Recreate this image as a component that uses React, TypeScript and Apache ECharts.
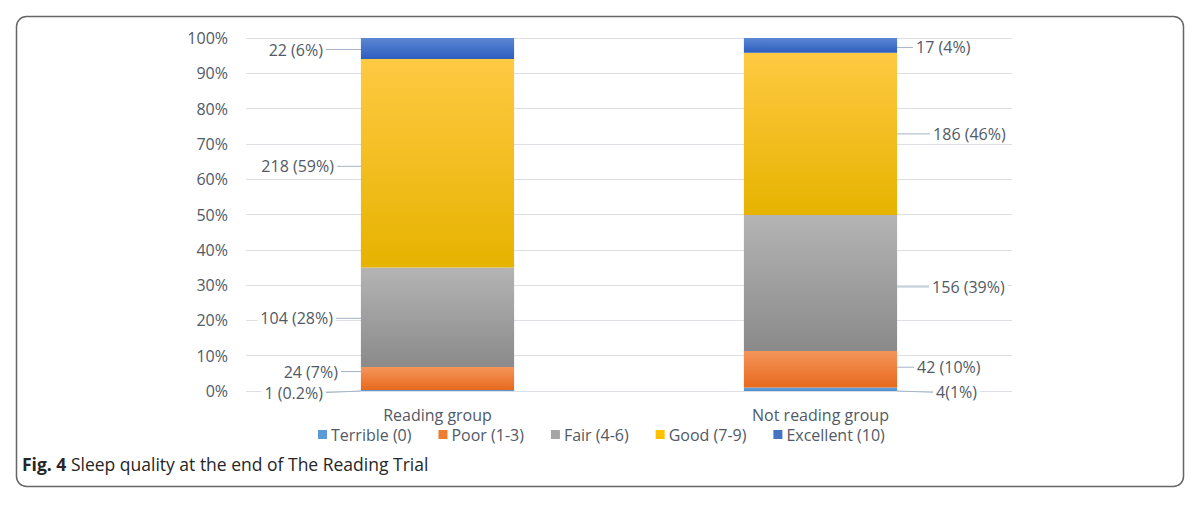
import React, { useEffect, useRef } from "react";
import * as echarts from "echarts";

const categories = ["Reading group", "Not reading group"];
const seriesNames = ["Terrible (0)", "Poor (1-3)", "Fair (4-6)", "Good (7-9)", "Excellent (10)"];

const terribleCounts = [1, 4];
const poorCounts = [24, 42];
const fairCounts = [104, 156];
const goodCounts = [218, 186];
const excellentCounts = [22, 17];

const terribleLabels = ["1 (0.2%)", "4(1%)"];
const poorLabels = ["24 (7%)", "42 (10%)"];
const fairLabels = ["104 (28%)", "156 (39%)"];
const goodLabels = ["218 (59%)", "186 (46%)"];
const excellentLabels = ["22 (6%)", "17 (4%)"];

const yTicks = [0, 10, 20, 30, 40, 50, 60, 70, 80, 90, 100];

const baseColors = ["#5B9BD5", "#ED7D31", "#A5A5A5", "#FFC000", "#4472C4"];
const gradientStops = [
  ["#6aa6dc", "#4a8ccb"],
  ["#f4955a", "#e8691e"],
  ["#b4b4b4", "#8a8a8a"],
  ["#ffc942", "#e6b300"],
  ["#5b87d4", "#2d5ebf"],
];

// label placement tweaks: [gap from bar edge, vertical nudge] per series, per category
const labelGap = [
  [38, 39],
  [23, 20],
  [28, 35],
  [27, 36],
  [38, 19],
];
const labelDy = [
  [2, 3],
  [-7, -2],
  [1, 4],
  [3, 0],
  [1, 2],
];

const FONT = "'Open Sans', 'Noto Sans', sans-serif";
const TEXT = "#515a66";
const FS = 16;

export default function App() {
  const ref = useRef<HTMLDivElement>(null);

  useEffect(() => {
    if (!ref.current) return;
    const chart = echarts.init(ref.current, undefined, { renderer: "svg" });

    const counts = [terribleCounts, poorCounts, fairCounts, goodCounts, excellentCounts];
    const labels = [terribleLabels, poorLabels, fairLabels, goodLabels, excellentLabels];
    const totals = categories.map((_, ci) => counts.reduce((s, arr) => s + arr[ci], 0));

    const series = seriesNames.map((name, si) => ({
      name,
      type: "bar",
      stack: "total",
      barWidth: "40%",
      data: counts[si].map((v, ci) => (v / totals[ci]) * 100),
      itemStyle: {
        color: new echarts.graphic.LinearGradient(0, 0, 0, 1, [
          { offset: 0, color: gradientStops[si][0] },
          { offset: 1, color: gradientStops[si][1] },
        ]),
      },
      label: {
        show: true,
        formatter: (p: any) => labels[si][p.dataIndex],
        fontFamily: FONT,
        fontSize: FS,
        color: TEXT,
        backgroundColor: "#ffffff",
        padding: [0, 3],
      },
      labelLine: {
        show: true,
        lineStyle: { color: "#a3b3c9", width: 1 },
      },
      labelLayout: (p: any) => {
        const r = p.rect;
        const ci = p.dataIndex;
        const left = ci === 0;
        return {
          x: left ? r.x - labelGap[si][ci] + 3 : r.x + r.width + labelGap[si][ci] - 3,
          y: r.y + r.height / 2 + labelDy[si][ci],
          align: left ? "right" : "left",
          verticalAlign: "middle",
        };
      },
      emphasis: { disabled: true },
    }));

    chart.setOption({
      animation: false,
      backgroundColor: "#ffffff",
      grid: { left: 246, right: 188, top: 38, bottom: 116, containLabel: false },
      legend: {
        left: 318,
        top: 426,
        padding: 0,
        icon: "rect",
        itemWidth: 9,
        itemHeight: 9,
        itemGap: 27,
        textStyle: { fontFamily: FONT, fontSize: FS, color: TEXT, lineHeight: 17, padding: [0, 0, 0, -1] },
        data: seriesNames.map((n, i) => ({ name: n, itemStyle: { color: baseColors[i] } })),
        selectedMode: false,
      },
      xAxis: {
        type: "category",
        data: categories,
        axisLine: { show: false },
        axisTick: { show: false },
        axisLabel: { fontFamily: FONT, fontSize: FS, color: TEXT, lineHeight: 17, margin: 15 },
      },
      yAxis: {
        type: "value",
        min: yTicks[0],
        max: yTicks[yTicks.length - 1],
        interval: 10,
        axisLine: { show: false },
        axisTick: { show: false },
        splitLine: { lineStyle: { color: "#dcdfe3", width: 1 } },
        axisLabel: {
          fontFamily: FONT,
          fontSize: FS,
          color: TEXT,
          margin: 18,
          formatter: "{value}%",
        },
      },
      series,
      graphic: [
        {
          type: "rect",
          shape: { x: 16.5, y: 16.5, width: 1167, height: 470, r: 10 },
          style: { fill: "none", stroke: "#666666", lineWidth: 1.5 },
          silent: true,
        },
        {
          type: "text",
          left: 22,
          top: 455,
          style: {
            text: "{b|Fig. 4} Sleep quality at the end of The Reading Trial",
            fontFamily: FONT,
            fontSize: 17.5,
            fill: "#262626",
            rich: {
              b: { fontFamily: FONT, fontSize: 17.5, fontWeight: "bold", fill: "#262626" },
            },
          },
          silent: true,
        },
      ],
    });

    return () => chart.dispose();
  }, []);

  return (
    <div
      ref={ref}
      style={{ position: "absolute", left: 0, top: 0, width: 1200, height: 507 }}
    />
  );
}
